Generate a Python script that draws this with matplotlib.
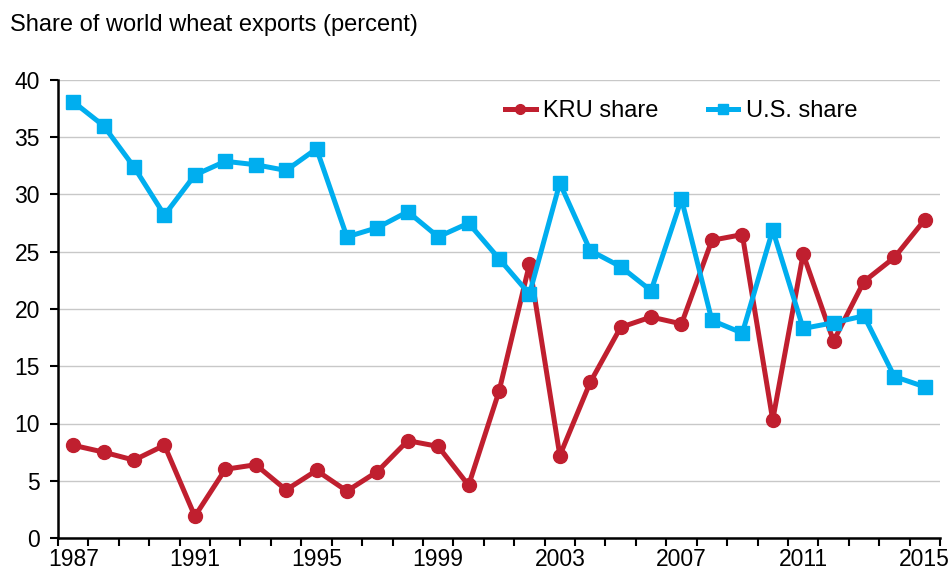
import matplotlib
matplotlib.use("Agg")
import matplotlib.pyplot as plt
import numpy as np

plt.rcParams['font.family'] = ['Liberation Sans', 'DejaVu Sans']

years = list(range(1987, 2016))
kru_share = [8.1, 7.5, 6.8, 8.1, 1.9, 6.0, 6.4, 4.2, 5.9, 4.1, 5.8, 8.5, 8.0, 4.6,
             12.8, 23.9, 7.2, 13.6, 18.4, 19.3, 18.7, 26.0, 26.5, 10.3, 24.8, 17.2,
             22.4, 24.5, 27.8]
us_share = [38.1, 36.0, 32.4, 28.2, 31.7, 32.9, 32.6, 32.1, 34.0, 26.3, 27.1, 28.5,
            26.3, 27.5, 24.4, 21.3, 31.0, 25.1, 23.7, 21.6, 29.6, 19.0, 17.9, 26.9,
            18.3, 18.8, 19.4, 14.1, 13.2]
tick_years = [1987, 1991, 1995, 1999, 2003, 2007, 2011, 2015]
y_ticks = [0, 5, 10, 15, 20, 25, 30, 35, 40]

red = '#C01F2F'
blue = '#00AEEF'

fig = plt.figure(figsize=(9.5, 5.73), dpi=100)
ax = fig.add_axes([58/950, 1-538/573, (940-58)/950, (538-80)/573])

x = np.arange(len(years))
ax.plot(x, kru_share, color=red, lw=3.6, marker='o', ms=10, label='KRU share', zorder=3)
ax.plot(x, us_share, color=blue, lw=3.6, marker='s', ms=10, label='U.S. share', zorder=3)

ax.set_xlim(-0.5, len(years) - 0.5)
ax.set_ylim(0, 40)
ax.set_yticks(y_ticks)
ax.set_yticklabels([str(v) for v in y_ticks])
ax.yaxis.grid(True, color='#c8c8c8', lw=1.0, zorder=0)
ax.set_axisbelow(True)

pos = [years.index(y) for y in tick_years]
ax.set_xticks(pos)
ax.set_xticklabels([str(y) for y in tick_years])
ax.set_xticks(np.arange(-0.5, len(years)), minor=True)
ax.tick_params(axis='x', which='major', length=0, pad=7, labelsize=16.5)
ax.tick_params(axis='x', which='minor', length=6, width=1.5, direction='out')
ax.tick_params(axis='y', length=6, width=1.5, direction='out', pad=7, labelsize=16.5)

for s in ['top', 'right']:
    ax.spines[s].set_visible(False)
for s in ['left', 'bottom']:
    ax.spines[s].set_linewidth(1.8)
    ax.spines[s].set_color('black')

fig.text(10/950, 1-31/573, 'Share of world wheat exports (percent)', fontsize=17,
         va='baseline', ha='left')

leg = ax.legend(loc='center left', bbox_to_anchor=(505/950, 1-111/573),
                bbox_transform=fig.transFigure, ncol=2, frameon=False,
                fontsize=17, handlelength=1.3, handletextpad=0.3,
                columnspacing=2.1, borderpad=0, borderaxespad=0, markerscale=0.7)

fig.savefig('out.png', dpi=100)
